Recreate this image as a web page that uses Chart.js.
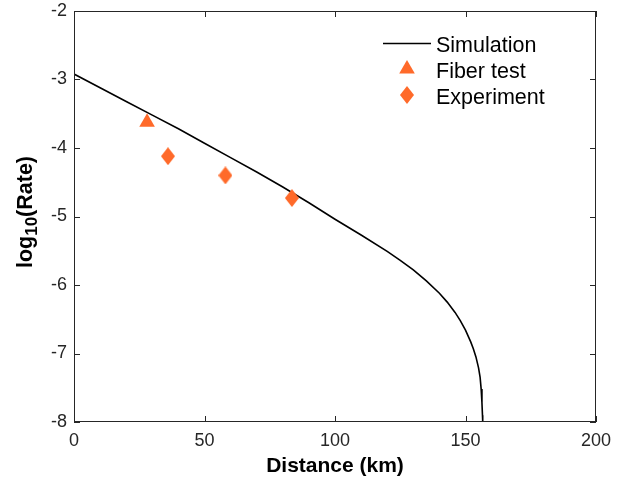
<!DOCTYPE html>
<html>
<head>
<meta charset="utf-8">
<script src="https://cdn.jsdelivr.net/npm/chart.js@4"></script>
<style>
  html, body { margin: 0; padding: 0; background: #fff; }
  #wrap { width: 636px; height: 479px; position: relative; }
</style>
</head>
<body>
<div id="wrap"><canvas id="rateChart" width="636" height="479"></canvas></div>
<script>
// simulation curve
const simDistance = [0, 10, 20, 30, 40, 50, 60, 70, 80, 90, 100, 110, 120, 125, 130, 135, 140, 143, 146, 148, 150, 152, 153, 154, 155, 155.6, 156, 156.3, 156.5, 156.6];
const simLogRate = [-2.92, -3.12, -3.32, -3.52, -3.72, -3.93, -4.14, -4.35, -4.57, -4.80, -5.04, -5.27, -5.51, -5.64, -5.78, -5.94, -6.12, -6.25, -6.40, -6.52, -6.66, -6.83, -6.93, -7.05, -7.21, -7.35, -7.52, -7.72, -7.90, -8.0];

// measured points
const fiberDistance = [28];
const fiberLogRate = [-3.625];
const expDistance = [36, 58, 83.5];
const expLogRate = [-4.12, -4.40, -4.73];

const xTicks = [0, 50, 100, 150, 200];
const yTicks = [-2, -3, -4, -5, -6, -7, -8];

const orange = '#FF6A2A';
const axisColor = '#262626';

function makeDiamond(w, h) {
    const c = document.createElement('canvas');
    c.width = w;
    c.height = h;
    const g = c.getContext('2d');
    g.fillStyle = orange;
    g.beginPath();
    g.moveTo(w / 2, 0);
    g.lineTo(w, h / 2);
    g.lineTo(w / 2, h);
    g.lineTo(0, h / 2);
    g.closePath();
    g.fill();
    return c;
}
const diamond = makeDiamond(14, 18);

const toPoints = (xs, ys) => xs.map((x, i) => ({ x: x, y: ys[i] }));

const boxPlugin = {
    id: 'matlabBox',
    afterDraw(chart) {
        const ctx = chart.ctx;
        const a = chart.chartArea;
        const xs = chart.scales.x;
        const ys = chart.scales.y;
        ctx.save();
        ctx.strokeStyle = axisColor;
        ctx.lineWidth = 1;
        ctx.strokeRect(a.left + 0.5, a.top + 0.5, a.right - a.left - 1, a.bottom - a.top - 1);
        ctx.beginPath();
        const tl = 6;
        xTicks.forEach(v => {
            const px = Math.round(xs.getPixelForValue(v)) + 0.5;
            ctx.moveTo(px, a.bottom); ctx.lineTo(px, a.bottom - tl);
            ctx.moveTo(px, a.top); ctx.lineTo(px, a.top + tl);
        });
        yTicks.forEach(v => {
            const py = Math.round(ys.getPixelForValue(v)) + 0.5;
            ctx.moveTo(a.left, py); ctx.lineTo(a.left + tl, py);
            ctx.moveTo(a.right, py); ctx.lineTo(a.right - tl, py);
        });
        ctx.stroke();

        // axis titles
        ctx.fillStyle = '#000';
        ctx.font = 'bold 21px "Liberation Sans", Arial, sans-serif';
        ctx.textAlign = 'center';
        ctx.textBaseline = 'alphabetic';
        ctx.fillText('Distance (km)', (a.left + a.right) / 2, 472);

        // y title with subscript
        const big = 'bold 21.5px "Liberation Sans", Arial, sans-serif';
        const small = 'bold 17px "Liberation Sans", Arial, sans-serif';
        ctx.font = big;
        const w1 = ctx.measureText('log').width;
        const w3 = ctx.measureText('(Rate)').width;
        ctx.font = small;
        const w2 = ctx.measureText('10').width;
        const total = w1 + w2 + w3;
        ctx.translate(32, 212);
        ctx.rotate(-Math.PI / 2);
        ctx.textAlign = 'left';
        let sx = -total / 2;
        ctx.font = big;
        ctx.fillText('log', sx, 0);
        sx += w1;
        ctx.font = small;
        ctx.fillText('10', sx, 5);
        sx += w2;
        ctx.font = big;
        ctx.fillText('(Rate)', sx, 0);
        ctx.restore();

        // legend
        ctx.save();
        ctx.font = '21.5px "Liberation Sans", Arial, sans-serif';
        ctx.fillStyle = '#000';
        ctx.textAlign = 'left';
        ctx.textBaseline = 'alphabetic';
        ctx.strokeStyle = '#000';
        ctx.lineWidth = 1.6;
        ctx.beginPath();
        ctx.moveTo(383, 43.5);
        ctx.lineTo(431, 43.5);
        ctx.stroke();
        ctx.fillText('Simulation', 436, 52);
        ctx.fillStyle = orange;
        ctx.beginPath();
        ctx.moveTo(407, 69 - 9);
        ctx.lineTo(407 + 7.8, 69 + 4.5);
        ctx.lineTo(407 - 7.8, 69 + 4.5);
        ctx.closePath();
        ctx.fill();
        ctx.drawImage(diamond, 407 - 7, 95 - 9);
        ctx.fillStyle = '#000';
        ctx.fillText('Fiber test', 436, 78);
        ctx.fillText('Experiment', 436, 104);
        ctx.restore();
    }
};

new Chart(document.getElementById('rateChart').getContext('2d'), {
    type: 'scatter',
    data: {
        datasets: [{
            label: 'Simulation',
            data: toPoints(simDistance, simLogRate),
            showLine: true,
            borderColor: '#000',
            borderWidth: 1.6,
            pointRadius: 0,
            tension: 0,
            order: 2
        }, {
            label: 'Fiber test',
            data: toPoints(fiberDistance, fiberLogRate),
            pointStyle: 'triangle',
            pointRadius: 9,
            backgroundColor: orange,
            borderColor: orange,
            borderWidth: 0,
            order: 1
        }, {
            label: 'Experiment',
            data: toPoints(expDistance, expLogRate),
            pointStyle: diamond,
            pointRadius: 9,
            backgroundColor: orange,
            borderWidth: 0,
            order: 1
        }]
    },
    options: {
        responsive: false,
        animation: false,
        events: [],
        layout: { padding: { left: 0, top: 11, right: 40, bottom: 0 } },
        plugins: {
            legend: { display: false },
            tooltip: { enabled: false }
        },
        scales: {
            x: {
                type: 'linear',
                min: 0,
                max: 200,
                grid: { display: false, drawTicks: false },
                border: { display: false },
                afterBuildTicks: s => { s.ticks = xTicks.map(v => ({ value: v })); },
                afterFit: s => {
                    s.height = 57;
                    s.paddingLeft = 0;
                    s.paddingRight = 0;
                },
                ticks: {
                    padding: 8,
                    color: axisColor,
                    font: { family: '"Liberation Sans", Arial, sans-serif', size: 18 }
                }
            },
            y: {
                type: 'linear',
                min: -8,
                max: -2,
                grid: { display: false, drawTicks: false },
                border: { display: false },
                afterBuildTicks: s => { s.ticks = yTicks.map(v => ({ value: v })); },
                afterFit: s => {
                    s.width = 74;
                    s.paddingTop = 0;
                    s.paddingBottom = 0;
                },
                ticks: {
                    padding: 7,
                    color: axisColor,
                    font: { family: '"Liberation Sans", Arial, sans-serif', size: 18 }
                }
            }
        }
    },
    plugins: [boxPlugin]
});
</script>
</body>
</html>
